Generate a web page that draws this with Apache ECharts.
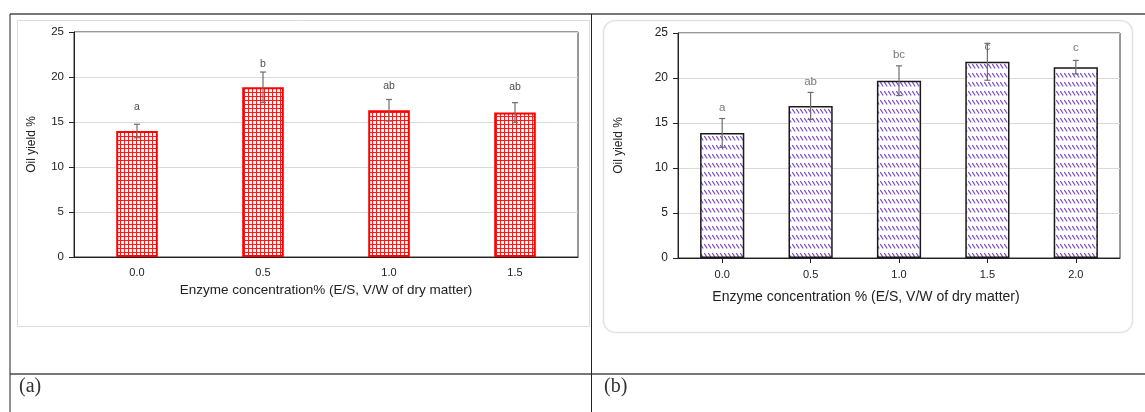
<!DOCTYPE html>
<html>
<head>
<meta charset="utf-8">
<script src="https://cdn.jsdelivr.net/npm/echarts@6/dist/echarts.min.js"></script>
<style>
  html, body { margin: 0; padding: 0; background: #fff; }
  #chart { width: 1145px; height: 412px; }
</style>
</head>
<body>
<div id="chart"></div>
<script>
// panel (a)
const doseA = ['0.0', '0.5', '1.0', '1.5']
const yieldA = [14.0, 18.85, 16.3, 16.05]
const sdA = [0.75, 1.7, 1.2, 1.1]
const lettersA = ['a', 'b', 'ab', 'ab']
const letterAtA = [16.7, 21.4, 19.0, 18.9]

// panel (b)
const doseB = ['0.0', '0.5', '1.0', '1.5', '2.0']
const yieldB = [13.9, 16.9, 19.7, 21.8, 21.2]
const sdB = [1.6, 1.5, 1.65, 2.05, 0.75]
const lettersB = ['a', 'ab', 'bc', 'c', 'c']
const letterAtB = [16.7, 19.6, 22.6, 23.5, 23.3]

const yMax = 25
const yStep = 5

const xTitleA = 'Enzyme concentration% (E/S, V/W of dry matter)'
const xTitleB = 'Enzyme concentration % (E/S, V/W of dry matter)'
const yTitle = 'Oil yield %'

// red square grid fill
function gridPattern() {
  const c = document.createElement('canvas')
  c.width = 4
  c.height = 4
  const g = c.getContext('2d')
  g.fillStyle = '#fff'
  g.fillRect(0, 0, 4, 4)
  g.fillStyle = '#ff1a1a'
  g.fillRect(0, 0, 4, 1)
  g.fillRect(0, 0, 1, 4)
  return c
}

// purple diagonal dashes
function hatchPattern() {
  const c = document.createElement('canvas')
  c.width = 4
  c.height = 9
  const g = c.getContext('2d')
  g.fillStyle = '#fff'
  g.fillRect(0, 0, 4, 9)
  g.strokeStyle = '#7d4cc4'
  g.lineWidth = 1.2
  g.beginPath()
  g.moveTo(0.3, 1)
  g.lineTo(3.2, 5.5)
  g.stroke()
  return c
}

function errorSeries(idx, means, sds) {
  return {
    type: 'custom',
    xAxisIndex: idx,
    yAxisIndex: idx,
    z: 5,
    data: means.map((m, i) => [i, m, sds[i]]),
    renderItem(params, api) {
      const i = api.value(0)
      const hi = api.coord([i, api.value(1) + api.value(2)])
      const lo = api.coord([i, api.value(1) - api.value(2)])
      const st = { stroke: '#6e6e6e', lineWidth: 1.2 }
      return {
        type: 'group',
        children: [
          { type: 'line', shape: { x1: hi[0], y1: hi[1], x2: lo[0], y2: lo[1] }, style: st },
          { type: 'line', shape: { x1: hi[0] - 3, y1: hi[1], x2: hi[0] + 3, y2: hi[1] }, style: st },
          { type: 'line', shape: { x1: lo[0] - 3, y1: lo[1], x2: lo[0] + 3, y2: lo[1] }, style: st }
        ]
      }
    }
  }
}

function letterSeries(idx, letters, at, color, size) {
  return {
    type: 'scatter',
    xAxisIndex: idx,
    yAxisIndex: idx,
    z: 6,
    symbolSize: 1,
    itemStyle: { color: 'rgba(0,0,0,0)' },
    data: letters.map((l, i) => [i, at[i], l]),
    label: {
      show: true,
      position: 'inside',
      formatter: p => p.value[2],
      color: color,
      fontFamily: 'Liberation Sans',
      fontSize: size
    }
  }
}

const font = 'Liberation Sans'

function yAxis(idx, gap, labelSize) {
  return {
    gridIndex: idx,
    type: 'value',
    min: 0,
    max: yMax,
    interval: yStep,
    name: yTitle,
    nameLocation: 'middle',
    nameRotate: 90,
    nameGap: gap,
    nameTextStyle: { fontFamily: font, fontSize: 12, color: '#222' },
    axisLine: { show: true, lineStyle: { color: '#222', width: 1 } },
    axisTick: { show: true, length: 5, lineStyle: { color: '#222' } },
    axisLabel: { margin: 10, fontFamily: font, fontSize: labelSize, color: '#222' },
    splitLine: { show: true, lineStyle: { color: '#d9d9d9', width: 1 } }
  }
}

const chart = echarts.init(document.getElementById('chart'))
chart.setOption({
  animation: false,
  backgroundColor: '#fff',
  grid: [
    { left: 74, top: 32, width: 504, height: 225, show: true, borderColor: '#333', borderWidth: 1, backgroundColor: 'transparent' },
    { left: 678, top: 33, width: 442, height: 225, show: true, borderColor: '#333', borderWidth: 1, backgroundColor: 'transparent' }
  ],
  xAxis: [
    {
      gridIndex: 0,
      type: 'category',
      data: doseA,
      name: xTitleA,
      nameLocation: 'middle',
      nameGap: 24,
      nameTextStyle: { fontFamily: font, fontSize: 13.5, color: '#222', verticalAlign: 'top' },
      axisLine: { lineStyle: { color: '#222' } },
      axisTick: { show: false },
      axisLabel: { margin: 10, fontFamily: font, fontSize: 11, color: '#222' }
    },
    {
      gridIndex: 1,
      type: 'category',
      data: doseB,
      name: xTitleB,
      nameLocation: 'middle',
      nameGap: 32,
      nameTextStyle: { fontFamily: font, fontSize: 14, color: '#222', verticalAlign: 'top', padding: [0, 66, 0, 0] },
      axisLine: { lineStyle: { color: '#222' } },
      axisTick: { show: true, alignWithLabel: true, length: 5, lineStyle: { color: '#222' } },
      axisLabel: { margin: 11, fontFamily: font, fontSize: 11, color: '#222' }
    }
  ],
  yAxis: [yAxis(0, 36, 11.5), yAxis(1, 53, 12)],
  series: [
    {
      type: 'bar',
      xAxisIndex: 0,
      yAxisIndex: 0,
      barWidth: '33%',
      data: yieldA,
      itemStyle: {
        color: { image: gridPattern(), repeat: 'repeat' },
        borderColor: '#ff0000',
        borderWidth: 2
      }
    },
    errorSeries(0, yieldA, sdA),
    letterSeries(0, lettersA, letterAtA, '#1a1a1a', 10.5),
    {
      type: 'bar',
      xAxisIndex: 1,
      yAxisIndex: 1,
      barWidth: '50%',
      data: yieldB,
      itemStyle: {
        color: { image: hatchPattern(), repeat: 'repeat' },
        borderColor: '#1a1a1a',
        borderWidth: 1.5
      }
    },
    errorSeries(1, yieldB, sdB),
    letterSeries(1, lettersB, letterAtB, '#555', 11.5)
  ],
  graphic: [
    // chart area frames
    { type: 'rect', silent: true, shape: { x: 17.5, y: 20.5, width: 572, height: 306 }, style: { fill: 'none', stroke: '#dcdcdc', lineWidth: 1 } },
    { type: 'rect', silent: true, shape: { x: 603.5, y: 20.5, width: 529, height: 312, r: 12 }, style: { fill: 'none', stroke: '#e2e2e2', lineWidth: 1.5 } },
    // table rules
    { type: 'line', silent: true, shape: { x1: 10, y1: 14, x2: 1145, y2: 14 }, style: { stroke: '#4a4a4a', lineWidth: 1.5 } },
    { type: 'line', silent: true, shape: { x1: 10, y1: 374, x2: 1145, y2: 374 }, style: { stroke: '#4a4a4a', lineWidth: 1.5 } },
    { type: 'line', silent: true, shape: { x1: 10, y1: 14, x2: 10, y2: 412 }, style: { stroke: '#222', lineWidth: 1 } },
    { type: 'line', silent: true, shape: { x1: 591.5, y1: 14, x2: 591.5, y2: 412 }, style: { stroke: '#222', lineWidth: 1 } },
    // panel letters
    { type: 'text', silent: true, left: 19, top: 377, style: { text: '(a)', font: '20px "Liberation Serif"', fill: '#333' } },
    { type: 'text', silent: true, left: 604, top: 377, style: { text: '(b)', font: '20px "Liberation Serif"', fill: '#333' } }
  ]
})
</script>
</body>
</html>
